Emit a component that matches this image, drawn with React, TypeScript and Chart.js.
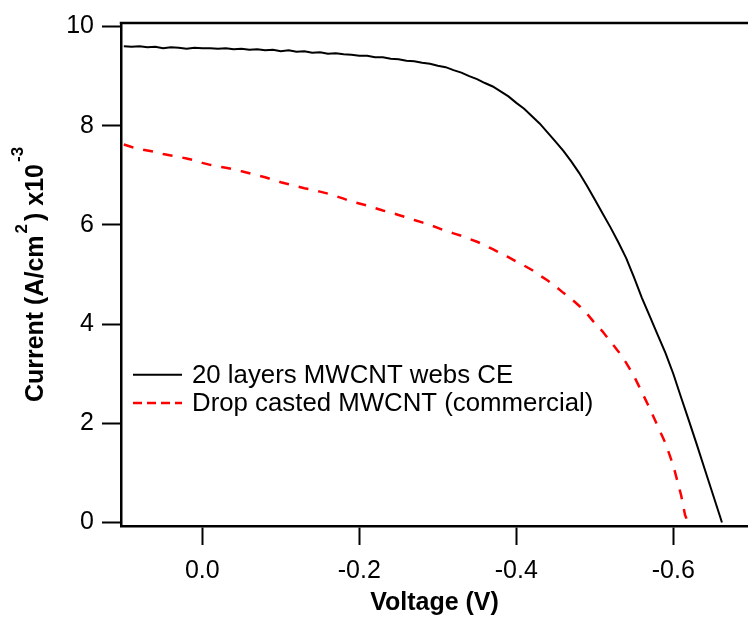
import React, { useEffect, useRef } from "react";
import { Chart, registerables } from "chart.js";

Chart.register(...registerables);

// ---- data ----
const voltageBlack = [
  0.10, 0.09, 0.08, 0.07, 0.06, 0.05, 0.04, 0.03, 0.02, 0.01,
  0.00, -0.01, -0.02, -0.03, -0.04, -0.05, -0.06, -0.07, -0.08, -0.09,
  -0.10, -0.11, -0.12, -0.13, -0.14, -0.15, -0.16, -0.17, -0.18, -0.19,
  -0.20, -0.21, -0.22, -0.23, -0.24, -0.25, -0.26, -0.27, -0.28, -0.29,
  -0.30, -0.31, -0.32, -0.33, -0.34, -0.35, -0.36, -0.37, -0.38, -0.39,
  -0.40, -0.41, -0.42, -0.43, -0.44, -0.45, -0.46, -0.47, -0.48, -0.49,
  -0.50, -0.51, -0.52, -0.53, -0.54, -0.55, -0.56, -0.57, -0.58, -0.59,
  -0.60, -0.61, -0.62, -0.63, -0.64, -0.65, -0.66, -0.662,
];
const currentBlack = [
  9.60, 9.59, 9.60, 9.58, 9.59, 9.56, 9.58, 9.57, 9.55, 9.57,
  9.56, 9.56, 9.55, 9.56, 9.54, 9.55, 9.53, 9.54, 9.52, 9.53,
  9.50, 9.52, 9.49, 9.50, 9.47, 9.48, 9.45, 9.46, 9.44, 9.43,
  9.41, 9.41, 9.38, 9.38, 9.35, 9.34, 9.31, 9.30, 9.27, 9.25,
  9.21, 9.18, 9.12, 9.07, 9.00, 8.94, 8.86, 8.79, 8.69, 8.59,
  8.46, 8.34, 8.19, 8.04, 7.86, 7.68, 7.49, 7.28, 7.05, 6.79,
  6.51, 6.23, 5.95, 5.65, 5.33, 4.94, 4.53, 4.16, 3.79, 3.42,
  3.00, 2.52, 2.05, 1.57, 1.08, 0.59, 0.10, 0.00,
];
const voltageRed = [
  0.10, 0.09, 0.08, 0.07, 0.06, 0.05, 0.04, 0.03, 0.02, 0.01,
  0.00, -0.01, -0.02, -0.03, -0.04, -0.05, -0.06, -0.07, -0.08, -0.09,
  -0.10, -0.11, -0.12, -0.13, -0.14, -0.15, -0.16, -0.17, -0.18, -0.19,
  -0.20, -0.21, -0.22, -0.23, -0.24, -0.25, -0.26, -0.27, -0.28, -0.29,
  -0.30, -0.31, -0.32, -0.33, -0.34, -0.35, -0.36, -0.37, -0.38, -0.39,
  -0.40, -0.41, -0.42, -0.43, -0.44, -0.45, -0.46, -0.47, -0.48, -0.49,
  -0.50, -0.51, -0.52, -0.53, -0.54, -0.55, -0.56, -0.57, -0.58, -0.59,
  -0.60, -0.61, -0.615, -0.619,
];
const currentRed = [
  7.62, 7.57, 7.53, 7.50, 7.47, 7.43, 7.40, 7.37, 7.34, 7.30,
  7.25, 7.21, 7.18, 7.15, 7.12, 7.08, 7.04, 7.00, 6.96, 6.91,
  6.86, 6.82, 6.78, 6.74, 6.71, 6.67, 6.63, 6.58, 6.53, 6.47,
  6.43, 6.39, 6.34, 6.29, 6.25, 6.20, 6.15, 6.10, 6.05, 6.00,
  5.94, 5.88, 5.83, 5.78, 5.72, 5.66, 5.59, 5.51, 5.43, 5.35,
  5.26, 5.18, 5.09, 4.98, 4.88, 4.76, 4.63, 4.51, 4.37, 4.21,
  4.02, 3.85, 3.65, 3.45, 3.22, 2.95, 2.63, 2.30, 1.95, 1.60,
  1.15, 0.55, 0.15, 0.00,
];
const seriesLabels = ["20 layers MWCNT webs CE", "Drop casted MWCNT (commercial)"];
const xTickValues = [0, -0.2, -0.4, -0.6];
const yTickValues = [0, 2, 4, 6, 8, 10];
const xTitle = "Voltage (V)";
const yTitleParts: { text: string; sup: boolean }[] = [
  { text: "Current (A/cm", sup: false },
  { text: "2", sup: true },
  { text: ") x10", sup: false },
  { text: "-3", sup: true },
];

const FONT = '"Liberation Sans", Arial, Helvetica, sans-serif';

const framePlugin = {
  id: "topFrame",
  afterDraw(chart: any) {
    const { ctx, chartArea } = chart;
    ctx.save();
    ctx.strokeStyle = "#000";
    ctx.lineWidth = 2.6;
    ctx.beginPath();
    ctx.moveTo(chartArea.left - 1.25, chartArea.top);
    ctx.lineTo(chart.width, chartArea.top);
    ctx.stroke();
    ctx.restore();
  },
};

const legendPlugin = {
  id: "insideLegend",
  afterDatasetsDraw(chart: any) {
    const { ctx, chartArea } = chart;
    const x0 = chartArea.left + 12;
    const x1 = chartArea.left + 61;
    const tx = chartArea.left + 71;
    const rows = [
      { lineY: chartArea.top + 351.7, baseY: chartArea.top + 359.5 },
      { lineY: chartArea.top + 380, baseY: chartArea.top + 388 },
    ];
    ctx.save();
    chart.data.datasets.forEach((ds: any, i: number) => {
      const r = rows[i];
      ctx.strokeStyle = ds.borderColor;
      ctx.lineWidth = ds.borderWidth;
      ctx.setLineDash(i === 1 ? [9, 5] : []);
      ctx.beginPath();
      ctx.moveTo(x0, r.lineY);
      ctx.lineTo(x1, r.lineY);
      ctx.stroke();
      ctx.setLineDash([]);
      ctx.fillStyle = "#000";
      ctx.font = `25.8px ${FONT}`;
      ctx.textAlign = "left";
      ctx.textBaseline = "alphabetic";
      ctx.fillText(ds.label, tx, r.baseY);
    });
    ctx.restore();
  },
};

const yTitlePlugin = {
  id: "yTitleSup",
  afterDraw(chart: any) {
    const { ctx, chartArea } = chart;
    const mainFont = `bold 25px ${FONT}`;
    const supFont = `bold 17px ${FONT}`;
    const gaps = [2, 3, 2, 0];
    const raises = [0, 16, 0, 20];
    ctx.save();
    let total = 0;
    const widths = yTitleParts.map((p, i) => {
      ctx.font = p.sup ? supFont : mainFont;
      const w = ctx.measureText(p.text).width + gaps[i];
      total += w;
      return w;
    });
    const cy = (chartArea.top + chartArea.bottom) / 2;
    ctx.translate(43, cy);
    ctx.rotate(-Math.PI / 2);
    ctx.fillStyle = "#000";
    ctx.textAlign = "left";
    ctx.textBaseline = "alphabetic";
    let x = -total / 2;
    yTitleParts.forEach((p, i) => {
      ctx.font = p.sup ? supFont : mainFont;
      ctx.fillText(p.text, x, -raises[i]);
      x += widths[i];
    });
    ctx.restore();
  },
};

export default function App() {
  const canvasRef = useRef<HTMLCanvasElement | null>(null);

  useEffect(() => {
    document.body.style.margin = "0";
    const canvas = canvasRef.current;
    if (!canvas) return;
    const chart = new Chart(canvas, {
      type: "line",
      data: {
        datasets: [
          {
            label: seriesLabels[0],
            data: voltageBlack.map((v, i) => ({ x: v, y: currentBlack[i] })),
            borderColor: "#000000",
            borderWidth: 2,
            pointRadius: 0,
            tension: 0,
            fill: false,
          },
          {
            label: seriesLabels[1],
            data: voltageRed.map((v, i) => ({ x: v, y: currentRed[i] })),
            borderColor: "#ff0000",
            borderWidth: 2.5,
            borderDash: [10, 10],
            pointRadius: 0,
            tension: 0,
            fill: false,
          },
        ],
      },
      options: {
        animation: false,
        responsive: false,
        devicePixelRatio: 1,
        layout: { padding: { top: 20, right: 0, bottom: 0, left: 0 } },
        plugins: {
          legend: { display: false },
          tooltip: { enabled: false },
        },
        scales: {
          x: {
            type: "linear",
            reverse: true,
            min: -0.6952,
            max: 0.1036,
            afterBuildTicks: (s: any) => {
              s.ticks = xTickValues.map((v) => ({ value: v }));
            },
            afterFit: (s: any) => {
              s.height = 93;
            },
            grid: {
              display: true,
              drawOnChartArea: false,
              drawTicks: true,
              tickLength: 19,
              tickWidth: 2,
              tickColor: "#000",
            },
            border: { display: true, color: "#000", width: 2.5 },
            ticks: {
              color: "#000",
              font: { size: 25, family: FONT },
              padding: 11,
              maxRotation: 0,
              autoSkip: false,
              callback: (v: any) => Number(v).toFixed(1),
            },
            title: {
              display: true,
              text: xTitle,
              color: "#000",
              font: { size: 25, weight: "bold", family: FONT },
              padding: { top: 0, bottom: 1 },
            },
          },
          y: {
            type: "linear",
            min: -0.07,
            max: 10.07,
            afterBuildTicks: (s: any) => {
              s.ticks = yTickValues.map((v) => ({ value: v }));
            },
            afterFit: (s: any) => {
              s.width = 121;
            },
            grid: {
              display: true,
              drawOnChartArea: false,
              drawTicks: true,
              tickLength: 19,
              tickWidth: 2,
              tickColor: "#000",
            },
            border: { display: true, color: "#000", width: 2.5 },
            ticks: {
              color: "#000",
              font: { size: 25, family: FONT },
              padding: 8,
              autoSkip: false,
              callback: (v: any) => String(v),
            },
          },
        },
      } as any,
      plugins: [framePlugin, legendPlugin, yTitlePlugin],
    });
    return () => chart.destroy();
  }, []);

  return (
    <div style={{ width: 748, height: 619, background: "#fff" }}>
      <canvas ref={canvasRef} width={748} height={619} style={{ display: "block" }} />
    </div>
  );
}
